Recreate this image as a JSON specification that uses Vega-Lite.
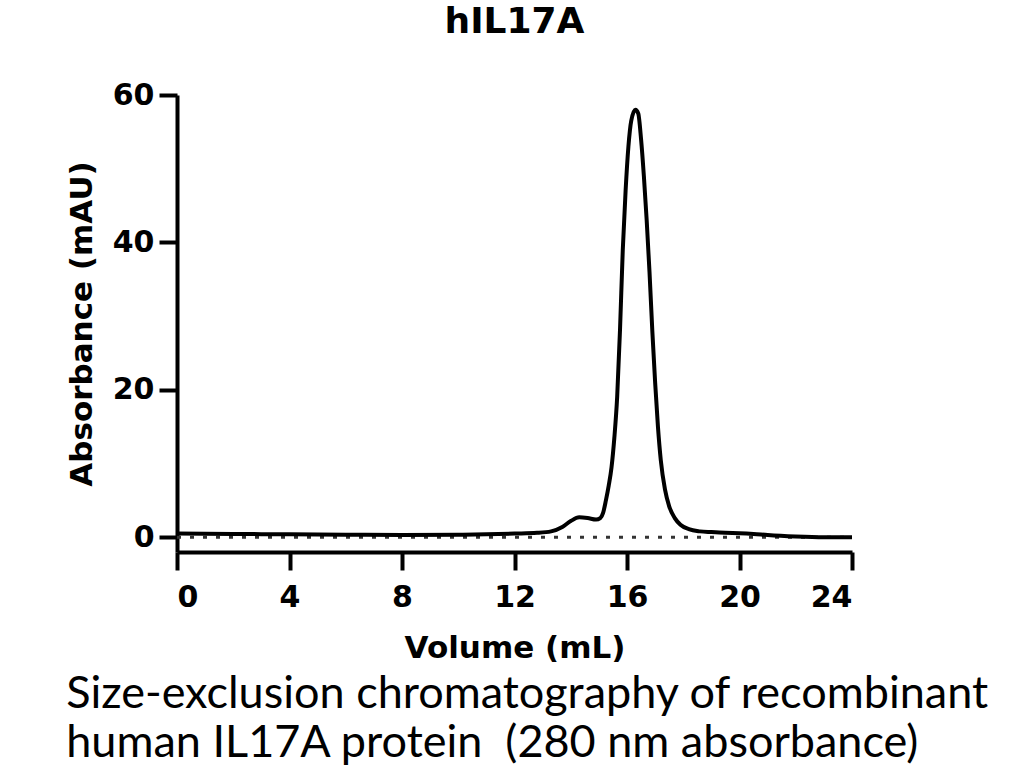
{
  "$schema": "https://vega.github.io/schema/vega-lite/v6.json",
  "background": "white",
  "padding": {"left": 66, "top": 4, "right": 5, "bottom": 0},
  "config": {
    "view": {"stroke": null},
    "font": "DejaVu Sans",
    "axis": {
      "domainColor": "black",
      "domainWidth": 4,
      "tickColor": "black",
      "tickWidth": 4,
      "tickSize": 18,
      "grid": false,
      "labelFont": "DejaVu Sans",
      "labelFontWeight": "bold",
      "labelFontSize": 30,
      "labelColor": "black",
      "titleFont": "DejaVu Sans",
      "titleFontWeight": "bold",
      "titleFontSize": 31,
      "titleColor": "black"
    },
    "title": {"color": "black"}
  },
  "title": {
    "text": ["Size-exclusion chromatography of recombinant", "human IL17A protein\u00a0 (280 nm absorbance)"],
    "orient": "bottom",
    "anchor": "start",
    "font": "Lato",
    "fontWeight": "normal",
    "fontSize": 45,
    "lineHeight": 49,
    "offset": 9
  },
  "vconcat": [
    {
      "width": 675,
      "height": 457,
      "title": {
        "text": "hIL17A",
        "font": "DejaVu Sans",
        "fontSize": 36,
        "fontWeight": "bold",
        "anchor": "middle",
        "offset": 39
      },
      "layer": [
        {
          "data": {"values": [{"start": 0, "end": 24, "level": 0}]},
          "mark": {"type": "rule", "color": "#333333", "strokeWidth": 3, "strokeDash": [4, 9]},
          "encoding": {
            "x": {"field": "start", "type": "quantitative"},
            "x2": {"field": "end"},
            "y": {"field": "level", "type": "quantitative"}
          }
        },
        {
          "data": {
            "values": [
              {"volume": 0, "absorbance": 0.5},
              {"volume": 2, "absorbance": 0.45},
              {"volume": 4, "absorbance": 0.4},
              {"volume": 6, "absorbance": 0.35},
              {"volume": 8, "absorbance": 0.3},
              {"volume": 10, "absorbance": 0.35},
              {"volume": 11, "absorbance": 0.4},
              {"volume": 12, "absorbance": 0.5},
              {"volume": 12.8, "absorbance": 0.6},
              {"volume": 13.3, "absorbance": 0.8},
              {"volume": 13.7, "absorbance": 1.4},
              {"volume": 14.0, "absorbance": 2.2},
              {"volume": 14.3, "absorbance": 2.7},
              {"volume": 14.6, "absorbance": 2.6},
              {"volume": 14.9, "absorbance": 2.4},
              {"volume": 15.05, "absorbance": 2.6},
              {"volume": 15.15, "absorbance": 3.3},
              {"volume": 15.25, "absorbance": 5},
              {"volume": 15.35, "absorbance": 7},
              {"volume": 15.45, "absorbance": 9.5},
              {"volume": 15.55, "absorbance": 13.5},
              {"volume": 15.65, "absorbance": 19},
              {"volume": 15.75, "absorbance": 28},
              {"volume": 15.85, "absorbance": 39},
              {"volume": 15.95, "absorbance": 47},
              {"volume": 16.05, "absorbance": 53},
              {"volume": 16.15, "absorbance": 56.5},
              {"volume": 16.3, "absorbance": 58},
              {"volume": 16.4, "absorbance": 57.5},
              {"volume": 16.5, "absorbance": 54},
              {"volume": 16.6, "absorbance": 49},
              {"volume": 16.7, "absorbance": 43},
              {"volume": 16.8, "absorbance": 36},
              {"volume": 16.9, "absorbance": 28},
              {"volume": 17.0, "absorbance": 21},
              {"volume": 17.1, "absorbance": 15},
              {"volume": 17.2, "absorbance": 10.5},
              {"volume": 17.35, "absorbance": 6.5},
              {"volume": 17.5, "absorbance": 4.2},
              {"volume": 17.7, "absorbance": 2.6},
              {"volume": 17.9, "absorbance": 1.7},
              {"volume": 18.2, "absorbance": 1.1},
              {"volume": 18.6, "absorbance": 0.8},
              {"volume": 19.0, "absorbance": 0.7},
              {"volume": 19.5, "absorbance": 0.6},
              {"volume": 20.0, "absorbance": 0.55},
              {"volume": 20.5, "absorbance": 0.45},
              {"volume": 21.0, "absorbance": 0.3},
              {"volume": 22.0, "absorbance": 0.1},
              {"volume": 23.0, "absorbance": 0.0},
              {"volume": 24.0, "absorbance": 0.0}
            ]
          },
          "mark": {"type": "line", "color": "black", "strokeWidth": 4, "interpolate": "monotone"},
          "encoding": {
            "x": {
              "field": "volume",
              "type": "quantitative",
              "title": "Volume (mL)",
              "scale": {"domain": [0, 24], "nice": false, "zero": false},
              "axis": {"values": [0, 4, 8, 12, 16, 20, 24], "labelPadding": 12, "titlePadding": 21}
            },
            "y": {
              "field": "absorbance",
              "type": "quantitative",
              "title": "Absorbance (mAU)",
              "scale": {"domain": [-2, 60], "nice": false, "zero": false},
              "axis": {"values": [0, 20, 40, 60], "labelPadding": 5, "titlePadding": 14}
            }
          }
        }
      ]
    }
  ]
}
